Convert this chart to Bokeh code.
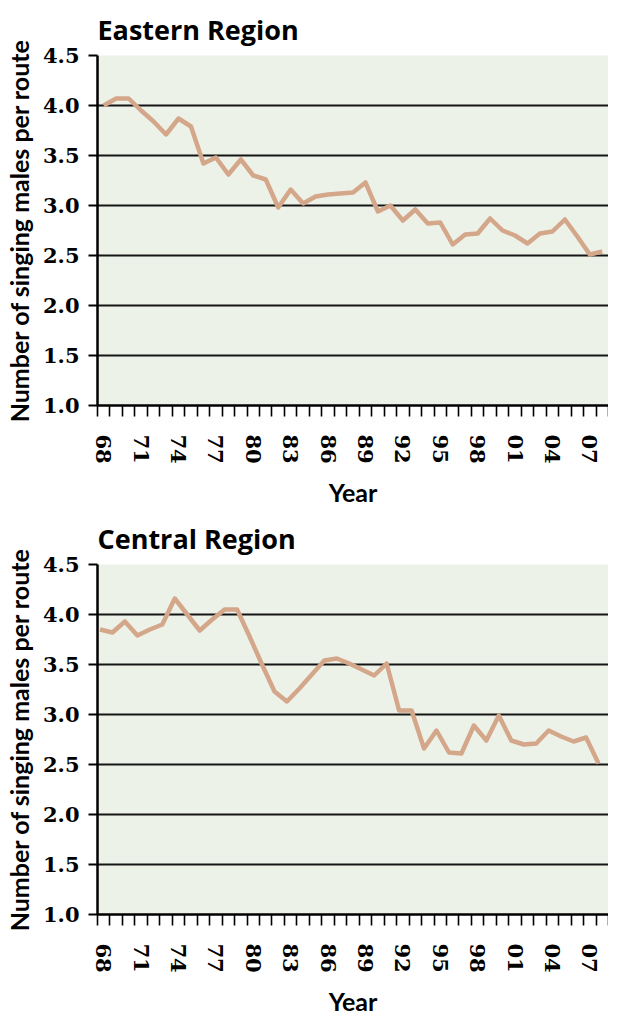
from bokeh.plotting import figure
from bokeh.layouts import column
from bokeh.models import FixedTicker, ColumnDataSource
from bokeh.transform import dodge
from bokeh.embed import file_html
from bokeh.resources import INLINE

# ---- data ----
years = list(range(1968, 2009))
eastern = [4.00, 4.07, 4.07, 3.95, 3.84, 3.71, 3.87, 3.79, 3.42, 3.48,
           3.31, 3.46, 3.30, 3.26, 2.98, 3.16, 3.02, 3.09, 3.11, 3.12,
           3.13, 3.23, 2.94, 3.00, 2.85, 2.96, 2.82, 2.83, 2.61, 2.71,
           2.72, 2.87, 2.75, 2.70, 2.62, 2.72, 2.74, 2.86, 2.69, 2.51,
           2.54]
central = [3.85, 3.82, 3.93, 3.79, 3.85, 3.90, 4.16, 4.00, 3.84, 3.95,
           4.05, 4.05, 3.78, 3.50, 3.23, 3.13, 3.26, 3.40, 3.54, 3.56,
           3.51, 3.45, 3.39, 3.51, 3.04, 3.04, 2.66, 2.84, 2.62, 2.61,
           2.89, 2.74, 2.99, 2.74, 2.70, 2.71, 2.84, 2.78, 2.73, 2.77,
           2.51]
x_tick_years = [1968, 1971, 1974, 1977, 1980, 1983, 1986, 1989, 1992,
                1995, 1998, 2001, 2004, 2007]
x_tick_labels = ["68", "71", "74", "77", "80", "83", "86", "89", "92",
                 "95", "98", "01", "04", "07"]
y_ticks = [1.0, 1.5, 2.0, 2.5, 3.0, 3.5, 4.0, 4.5]
y_tick_labels = ["1.0", "1.5", "2.0", "2.5", "3.0", "3.5", "4.0", "4.5"]
titles = ["Eastern Region", "Central Region"]

LINE_COLOR = "#d4a78b"
BG = "#edf2e9"
SANS = "Lato"


def make_panel(title, values, shift, title_standoff, bottom):
    src = ColumnDataSource(dict(year=years, value=values))
    p = figure(frame_width=511, frame_height=350,
               x_range=(years[0] - 0.5, years[-1] + 0.5),
               y_range=(y_ticks[0], y_ticks[-1]),
               output_backend="svg", toolbar_location=None,
               min_border_left=91, min_border_right=0,
               min_border_top=0, min_border_bottom=bottom)
    p.background_fill_color = BG
    p.border_fill_color = "white"
    p.outline_line_color = None

    p.title.text = title
    p.title.text_font = "Open Sans"
    p.title.text_font_style = "bold"
    p.title.text_font_size = "27px"
    p.title.align = "left"
    p.title.text_color = "black"
    p.title.standoff = title_standoff

    p.line(x=dodge("year", shift), y="value", source=src,
           line_color=LINE_COLOR, line_width=4.5, line_join="round")

    minor = [y - 0.5 for y in years] + [years[-1] + 0.5]
    xa = p.xaxis[0]
    xa.ticker = FixedTicker(ticks=x_tick_years, minor_ticks=minor)
    xa.major_label_overrides = dict(zip(x_tick_years, x_tick_labels))
    xa.major_label_orientation = "vertical"
    xa.major_label_text_font = "DejaVu Serif"
    xa.major_label_text_font_style = "bold"
    xa.major_label_text_font_size = "21px"
    xa.major_label_text_color = "black"
    xa.major_label_standoff = 18
    xa.major_tick_out = 0
    xa.major_tick_in = 0
    xa.minor_tick_out = 11
    xa.minor_tick_in = 0
    xa.minor_tick_line_color = "black"
    xa.minor_tick_line_width = 1.6
    xa.axis_line_color = "black"
    xa.axis_line_width = 2.5
    xa.axis_label = "Year"
    xa.axis_label_text_font = SANS
    xa.axis_label_text_font_style = "bold"
    xa.axis_label_text_font_size = "25px"
    xa.axis_label_text_color = "black"
    xa.axis_label_standoff = 10

    ya = p.yaxis[0]
    ya.ticker = FixedTicker(ticks=y_ticks, minor_ticks=[])
    ya.major_label_overrides = dict(zip(y_ticks, y_tick_labels))
    ya.major_label_text_font = "DejaVu Serif"
    ya.major_label_text_font_style = "bold"
    ya.major_label_text_font_size = "21px"
    ya.major_label_text_color = "black"
    ya.major_label_standoff = 9
    ya.major_tick_out = 9
    ya.major_tick_in = 0
    ya.major_tick_line_width = 2
    ya.major_tick_line_color = "black"
    ya.minor_tick_out = 0
    ya.axis_line_color = "black"
    ya.axis_line_width = 2.5
    ya.axis_label = "Number of singing males per route"
    ya.axis_label_text_font = SANS
    ya.axis_label_text_font_style = "bold"
    ya.axis_label_text_font_size = "25px"
    ya.axis_label_text_color = "black"
    ya.axis_label_standoff = 6

    p.xgrid.visible = False
    p.ygrid.ticker = FixedTicker(ticks=y_ticks, minor_ticks=[])
    p.ygrid.grid_line_color = "#151515"
    p.ygrid.grid_line_width = 2
    return p


p1 = make_panel(titles[0], eastern, 0.0, 16, 100)
p2 = make_panel(titles[1], central, -0.3, 16, 96)
layout = column(p1, p2)

open("out.html", "w").write(file_html(layout, INLINE))
